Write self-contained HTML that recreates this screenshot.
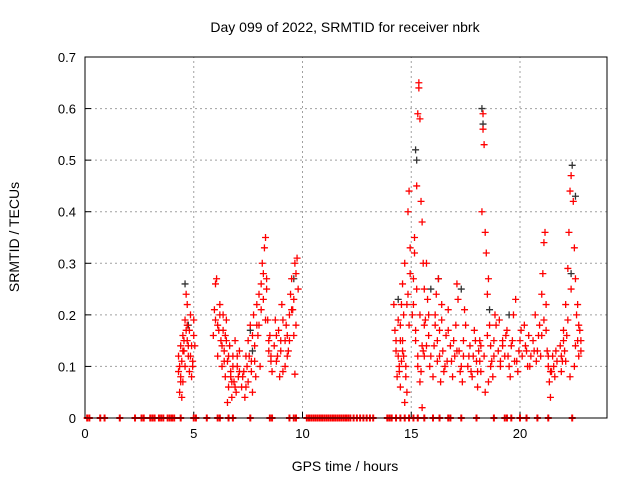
<!DOCTYPE html>
<html><head><meta charset="utf-8"><style>
body{margin:0;background:#fff}
svg{display:block;font-family:"Liberation Sans",sans-serif}
</style></head><body>
<svg id="chart" width="640" height="480" viewBox="0 0 640 480">
<rect width="640" height="480" fill="#fff"/>
<g id="grid"></g>
<g id="ticks"></g>
<g id="pts"></g>
<rect x="85" y="57" width="522" height="361" fill="none" stroke="#000" stroke-width="1"/>
<text x="345" y="32" text-anchor="middle" font-size="14">Day 099 of 2022, SRMTID for receiver nbrk</text>
<text x="345" y="471" text-anchor="middle" font-size="14">GPS time / hours</text>
<text x="19" y="237" text-anchor="middle" font-size="14" transform="rotate(-90 19 237)">SRMTID / TECUs</text>
</svg>
<script>
const xTicks=[0,5,10,15,20];
const yTicks=[0,0.1,0.2,0.3,0.4,0.5,0.6,0.7];
const yTickLabels=["0","0.1","0.2","0.3","0.4","0.5","0.6","0.7"];
const redX=[4.3,4.3,4.35,4.4,4.4,4.45,4.5,4.5,4.55,4.6,4.6,4.65,4.7,4.7,4.75,4.8,4.8,4.85,4.9,4.95,5.0,5.0,4.45,4.9,
5.9,5.95,6.0,6.05,6.1,6.1,6.2,6.25,6.3,6.35,6.4,6.45,6.5,6.55,6.6,6.65,6.7,6.75,6.8,6.85,6.9,6.95,7.0,7.05,7.1,6.55,6.2,
7.2,7.3,7.35,7.4,7.5,7.5,7.6,7.65,7.7,7.75,7.8,7.85,7.9,7.95,8.0,8.05,8.1,8.15,8.2,8.25,8.3,8.35,8.4,8.45,8.5,8.55,8.6,8.0,
8.7,8.75,8.8,8.9,9.0,9.05,9.1,9.2,9.25,9.3,9.4,9.45,9.5,9.55,9.6,9.65,9.7,9.75,9.7,9.65,9.4,8.95,
14.2,14.25,14.3,14.35,14.4,14.45,14.5,14.55,14.6,14.65,14.7,14.75,14.8,14.85,14.9,14.9,14.95,14.8,14.6,14.7,14.5,
15.05,15.1,15.15,15.25,15.3,15.35,15.35,15.4,15.45,15.5,15.55,15.6,15.2,15.3,15.4,15.5,15.6,15.65,15.7,15.75,15.8,15.85,15.4,15.15,
16.0,16.05,16.1,16.15,16.2,16.3,16.35,16.4,16.45,16.5,16.6,16.65,16.7,16.8,16.9,17.0,17.05,17.1,17.15,17.2,17.3,17.35,17.4,17.45,16.25,
17.6,17.7,17.8,17.85,17.9,18.0,18.05,18.1,18.15,18.2,18.25,18.3,18.3,18.35,18.4,18.45,18.5,18.55,18.6,18.65,18.7,18.75,18.8,18.85,18.4,18.55,
19.0,19.05,19.1,19.2,19.3,19.4,19.5,19.6,19.7,19.8,19.85,19.9,20.0,20.1,20.2,20.3,20.35,20.4,20.5,19.55,
20.6,20.7,20.75,20.8,20.9,21.0,21.05,21.1,21.15,21.2,21.25,21.3,21.35,21.4,21.45,21.5,21.6,21.7,21.0,21.2,
21.85,21.9,21.95,22.0,22.05,22.1,22.15,22.2,22.25,22.3,22.35,22.45,22.5,22.55,22.6,22.65,22.7,22.75,22.8,22.3,22.5,22.65,
4.35,4.5,4.55,4.65,4.75,4.85,4.95,5.05,4.4,4.7,
6.0,6.15,6.3,6.4,6.5,6.6,6.7,6.8,6.9,7.0,7.1,6.45,6.75,6.35,
7.25,7.45,7.55,7.7,7.8,7.9,8.1,8.2,8.3,8.45,8.55,7.4,7.65,8.35,
8.8,8.85,9.0,9.1,9.3,9.35,9.5,9.6,9.8,9.2,
14.3,14.4,14.5,14.6,14.65,14.75,14.85,14.95,14.45,14.55,
15.1,15.2,15.3,15.45,15.5,15.6,15.7,15.8,15.9,15.25,15.55,
16.1,16.2,16.3,16.4,16.55,16.7,16.85,16.95,17.1,17.25,17.4,17.5,
17.65,17.75,17.95,18.05,18.15,18.2,18.35,18.5,18.65,18.8,18.9,
19.1,19.2,19.35,19.45,19.65,19.75,19.95,20.05,20.25,20.45,
20.65,20.85,20.95,21.1,21.3,21.4,21.55,21.65,
21.9,22.0,22.1,22.2,22.35,22.55,22.7,22.8];
const redY=[.09,.12,.05,.14,.08,.11,.16,.07,.13,.19,.10,.24,.22,.15,.12,.17,.09,.20,.14,.11,.16,.19,.04,.08,
.16,.21,.26,.27,.18,.12,.22,.15,.10,.17,.13,.08,.19,.11,.06,.14,.09,.04,.12,.07,.15,.05,.10,.08,.13,.03,.20,
.06,.09,.04,.12,.07,.15,.18,.11,.05,.20,.14,.08,.22,.16,.24,.10,.26,.30,.28,.33,.35,.25,.19,.13,.16,.11,.09,.18,
.14,.19,.11,.17,.13,.22,.09,.15,.18,.12,.20,.24,.27,.21,.16,.30,.28,.31,.18,.085,.15,.08,
.22,.17,.13,.08,.19,.10,.15,.22,.26,.12,.30,.08,.05,.40,.44,.18,.33,.22,.15,.03,.06,
.20,.27,.35,.45,.59,.64,.65,.58,.42,.38,.30,.25,.15,.10,.07,.02,.12,.19,.30,.23,.16,.10,.20,.32,
.08,.14,.20,.24,.11,.17,.07,.22,.13,.09,.16,.11,.21,.14,.08,.12,.18,.26,.23,.13,.10,.07,.15,.21,.27,
.10,.14,.08,.12,.17,.11,.06,.13,.15,.09,.40,.56,.59,.53,.36,.32,.24,.27,.18,.14,.11,.08,.15,.20,.05,.07,
.13,.19,.10,.15,.12,.17,.10,.14,.20,.23,.11,.09,.15,.12,.18,.13,.10,.16,.12,.08,
.15,.20,.11,.13,.18,.24,.28,.34,.36,.22,.13,.10,.07,.04,.09,.12,.08,.11,.16,.17,
.14,.09,.11,.17,.13,.22,.16,.29,.36,.44,.47,.42,.33,.27,.20,.15,.12,.17,.13,.08,.10,.22,
.10,.13,.15,.17,.14,.12,.10,.14,.07,.18,
.19,.17,.14,.11,.15,.12,.08,.10,.06,.12,.09,.16,.07,.20,
.08,.10,.12,.16,.11,.18,.21,.23,.19,.15,.12,.06,.09,.27,
.16,.12,.15,.19,.16,.13,.21,.23,.25,.10,
.15,.12,.18,.13,.20,.10,.24,.28,.09,.11,
.22,.17,.12,.09,.14,.18,.14,.20,.12,.25,.13,
.18,.15,.12,.19,.10,.17,.11,.15,.13,.09,.12,.18,
.12,.09,.15,.09,.11,.14,.12,.16,.10,.12,.18,
.11,.14,.16,.12,.15,.11,.13,.17,.14,.10,
.13,.16,.12,.19,.12,.09,.10,.13,
.12,.15,.11,.19,.25,.14,.18,.15];
const blackX=[4.6,4.75,7.6,7.7,9.6,15.2,15.25,15.9,16.25,17.3,18.25,18.3,18.6,22.4,22.35,22.55,14.4,19.5];
const blackY=[.26,.18,.17,.13,.27,.52,.50,.25,.27,.25,.60,.57,.21,.49,.28,.43,.23,.20];
const zeroX=[0.1,0.2,0.7,0.9,1.6,2.3,2.6,2.7,3.0,3.1,3.2,3.4,3.5,3.6,3.8,3.9,4.0,4.1,4.4,5.0,5.1,5.6,6.1,6.2,6.6,6.8,7.6,8.5,8.6,9.4,9.6,9.7,10.2,10.3,10.4,10.5,10.6,10.7,10.8,10.9,11.0,11.1,11.2,11.3,11.4,11.5,11.6,11.7,11.8,11.9,12.0,12.1,12.2,12.35,12.5,12.65,12.8,12.95,13.1,13.25,13.9,14.0,14.1,14.3,14.5,14.7,14.9,15.1,15.3,15.6,16.0,16.3,16.7,16.8,17.3,18.0,18.8,19.3,19.4,19.6,20.0,20.3,20.8,21.3,22.4];

const X0=85,X1=607,Y0=418,Y1=57;
const sx=v=>X0+v*(X1-X0)/24;
const sy=v=>Y0-v*(Y0-Y1)/0.7;
const NS="http://www.w3.org/2000/svg";
const mk=(t,a)=>{const e=document.createElementNS(NS,t);for(const k in a)e.setAttribute(k,a[k]);return e;};
const grid=document.getElementById('grid'),ticks=document.getElementById('ticks'),pts=document.getElementById('pts');
xTicks.forEach(v=>{
 const x=sx(v);
 if(v>0){const g=mk('line',{x1:x,y1:Y0,x2:x,y2:Y1,stroke:'#a0a0a0','stroke-dasharray':'2,3'});
 
 
 grid.appendChild(g);}
 const t=mk('line',{x1:x,y1:Y0,x2:x,y2:Y0-6,stroke:'#000'});
 
 
 ticks.appendChild(t);
 const l=mk('text',{x:x,y:Y0+20,'text-anchor':'middle','font-size':'13'});
 l.textContent=String(v);
 
 
 ticks.appendChild(l);
});
yTicks.forEach((v,i)=>{
 const y=sy(v);
 if(i>0&&i<yTicks.length-1){const g=mk('line',{x1:X0,y1:y,x2:X1,y2:y,stroke:'#a0a0a0','stroke-dasharray':'2,3'});
 
 
 grid.appendChild(g);}
 const t=mk('line',{x1:X0,y1:y,x2:X0+6,y2:y,stroke:'#000'});
 
 
 ticks.appendChild(t);
 const l=mk('text',{x:X0-9,y:y+5,'text-anchor':'end','font-size':'13'});
 l.textContent=yTickLabels[i];
 
 
 ticks.appendChild(l);
});
function plus(x,y,c,name,w){
 const p=mk('path',{d:`M${x-3.5},${y}h7M${x},${y-3.5}v7`,stroke:c,'stroke-width':w,fill:'none'});
 
 
 pts.appendChild(p);
}
blackX.forEach((v,i)=>plus(sx(v),sy(blackY[i]),'#333','black-point','1.3'));
redX.forEach((v,i)=>plus(sx(v),sy(redY[i]),'#ff0000','red-point','1.3'));
zeroX.forEach(v=>plus(sx(v),sy(0),'#ff0000','zero-point','2'));
</script>
</body></html>
